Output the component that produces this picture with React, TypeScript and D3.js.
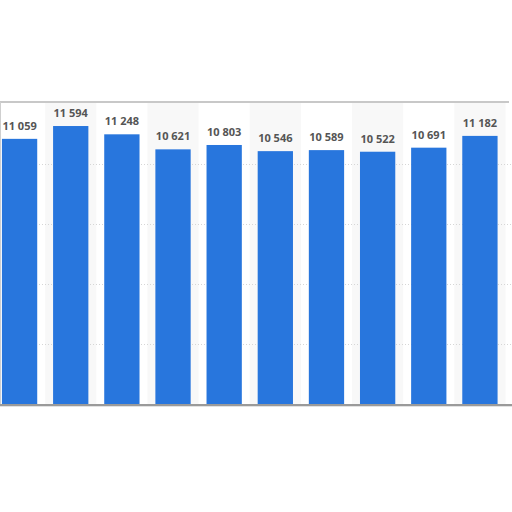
import * as d3 from 'd3';
import React, { useEffect, useRef } from 'react';

// bar values, left to right
const values = [11059, 11594, 11248, 10621, 10803, 10546, 10589, 10522, 10691, 11182];
const gridTicks = [2500, 5000, 7500, 10000];
const yDomainMax = 12500;

const fmt = (v: number) => d3.format(',')(v).replace(/,/g, ' ');

export default function App() {
  const svgRef = useRef<SVGSVGElement | null>(null);

  useEffect(() => {
    const width = 512;
    const height = 512;
    const plotTop = 102;
    const plotBottom = 404;

    const svg = d3.select(svgRef.current).attr('width', width).attr('height', height);
    svg.selectAll('*').remove();

    const x = d3
      .scaleBand<number>()
      .domain(values.map((_, i) => i))
      .range([-6, 505.5])
      .paddingInner(0.31)
      .paddingOuter(0.155);

    const y = d3.scaleLinear().domain([0, yDomainMax]).range([plotBottom, 104.3]);

    const step = x.step();
    const gap = step * x.paddingInner();

    // alternating column shading
    svg
      .append('g')
      .selectAll('rect')
      .data(values.map((_, i) => i).filter((i) => i % 2 === 1))
      .enter()
      .append('rect')
      .attr('x', (i) => x(i)! - gap / 2)
      .attr('y', plotTop)
      .attr('width', step)
      .attr('height', plotBottom - plotTop)
      .attr('fill', '#f8f8f8');

    // dotted gridlines
    svg
      .append('g')
      .selectAll('line')
      .data(gridTicks)
      .enter()
      .append('line')
      .attr('x1', 0)
      .attr('x2', width)
      .attr('y1', (d) => Math.round(y(d)) + 0.5)
      .attr('y2', (d) => Math.round(y(d)) + 0.5)
      .attr('stroke', '#d6d6d6')
      .attr('stroke-width', 1)
      .attr('stroke-dasharray', '1,2');

    // frame: top and left
    svg
      .append('line')
      .attr('x1', 0)
      .attr('x2', 509)
      .attr('y1', plotTop)
      .attr('y2', plotTop)
      .attr('stroke', '#c8c8c8')
      .attr('stroke-width', 2);
    svg
      .append('line')
      .attr('x1', 0.5)
      .attr('x2', 0.5)
      .attr('y1', plotTop)
      .attr('y2', plotBottom)
      .attr('stroke', '#cfcfcf')
      .attr('stroke-width', 1);

    // bars
    svg
      .append('g')
      .selectAll('rect')
      .data(values)
      .enter()
      .append('rect')
      .attr('x', (_, i) => x(i)!)
      .attr('y', (d) => y(d))
      .attr('width', x.bandwidth())
      .attr('height', (d) => plotBottom - y(d))
      .attr('fill', '#2876dd');

    // baseline with soft shadow
    svg
      .append('line')
      .attr('x1', 0)
      .attr('x2', width)
      .attr('y1', plotBottom + 1)
      .attr('y2', plotBottom + 1)
      .attr('stroke', '#9a9a9a')
      .attr('stroke-width', 2);
    svg
      .append('line')
      .attr('x1', 0)
      .attr('x2', width)
      .attr('y1', plotBottom + 2.5)
      .attr('y2', plotBottom + 2.5)
      .attr('stroke', '#e2e2e2')
      .attr('stroke-width', 1);

    // value labels
    svg
      .append('g')
      .selectAll('text')
      .data(values)
      .enter()
      .append('text')
      .attr('x', (_, i) => x(i)! + x.bandwidth() / 2)
      .attr('y', (d) => y(d) - 9)
      .attr('text-anchor', 'middle')
      .style('font-family', '"Open Sans", sans-serif')
      .style('font-size', '11px')
      .style('font-weight', 700)
      .attr('fill', '#555')
      .text((d) => fmt(d));
  }, []);

  return (
    <div style={{ position: 'fixed', left: 0, top: 0, width: 512, height: 512, background: '#fff' }}>
      <svg ref={svgRef} style={{ display: 'block' }} />
    </div>
  );
}
